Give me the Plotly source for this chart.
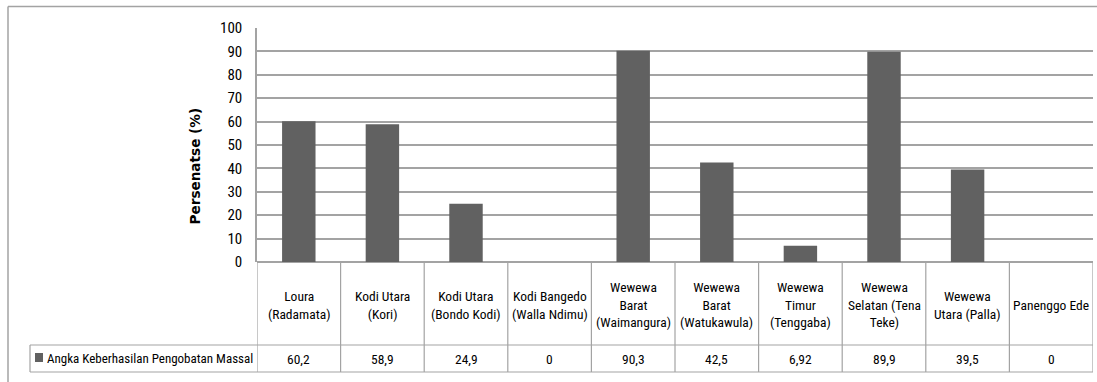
import plotly.graph_objects as go

# Kecamatan / puskesmas (tick labels of the data table header)
categories = [
    "Loura<br>(Radamata)",
    "Kodi Utara<br>(Kori)",
    "Kodi Utara<br>(Bondo Kodi)",
    "Kodi Bangedo<br>(Walla Ndimu)",
    "Wewewa<br>Barat<br>(Waimangura)",
    "Wewewa<br>Barat<br>(Watukawula)",
    "Wewewa<br>Timur<br>(Tenggaba)",
    "Wewewa<br>Selatan (Tena<br>Teke)",
    "Wewewa<br>Utara (Palla)",
    "Panenggo Ede",
]
series_name = "Angka Keberhasilan Pengobatan Massal"
values = [60.2, 58.9, 24.9, 0, 90.3, 42.5, 6.92, 89.9, 39.5, 0]
y_ticks = list(range(0, 101, 10))

W, H = 1097, 382
FONT = "Roboto Condensed, Liberation Sans Narrow, sans-serif"
LINE = "#a3a3a3"
BAR = "#616161"

# plot-area geometry in pixels
PL, PR, PT, PB = 257, 1093, 28, 262
ROW1, ROW2 = 345, 372      # bottom of header row, bottom of value row
LEG_L = 30                  # left edge of the legend cell


def py(p):
    return 1 - p / H


def fmt(v):
    return f"{v:g}".replace(".", ",")


n = len(categories)
fig = go.Figure(
    go.Bar(
        x=list(range(n)),
        y=values,
        width=0.4,
        marker=dict(color=BAR, line=dict(width=0)),
        name=series_name,
        showlegend=False,
    )
)

shapes = []
# outer chart border (top and left)
shapes.append(dict(type="line", xref="paper", yref="paper", x0=8 / W, x1=1, y0=py(6.5), y1=py(6.5),
                   line=dict(color=LINE, width=1.5)))
shapes.append(dict(type="line", xref="paper", yref="paper", x0=8 / W, x1=8 / W, y0=py(6.5), y1=0,
                   line=dict(color=LINE, width=1.5)))

# data table: vertical separators between categories
for k in range(n + 1):
    shapes.append(dict(type="line", xref="x", yref="paper", x0=k - 0.5, x1=k - 0.5,
                       y0=py(PB), y1=py(ROW2), line=dict(color=LINE, width=1.2)))
# data table: horizontal rules
for yp in (ROW1, ROW2):
    shapes.append(dict(type="line", xref="paper", yref="paper", x0=LEG_L / W, x1=PR / W,
                       y0=py(yp), y1=py(yp), line=dict(color=LINE, width=1.2)))
shapes.append(dict(type="line", xref="paper", yref="paper", x0=LEG_L / W, x1=LEG_L / W,
                   y0=py(ROW1), y1=py(ROW2), line=dict(color=LINE, width=1.2)))
# legend key square
shapes.append(dict(type="rect", xref="paper", yref="paper", x0=35 / W, x1=43 / W,
                   y0=py(362), y1=py(353), fillcolor=BAR, line=dict(width=0)))

annotations = []
for i, (c, v) in enumerate(zip(categories, values)):
    annotations.append(dict(x=i, xref="x", y=py((PB + ROW1) / 2 + 1), yref="paper", text=c,
                            showarrow=False, xanchor="center", yanchor="middle",
                            font=dict(family=FONT, size=13.5, color="#000")))
    annotations.append(dict(x=i, xref="x", y=py((ROW1 + ROW2) / 2), yref="paper", text=fmt(v),
                            showarrow=False, xanchor="center", yanchor="middle",
                            font=dict(family=FONT, size=13.5, color="#000")))
annotations.append(dict(x=45 / W, xref="paper", y=py((ROW1 + ROW2) / 2), yref="paper",
                        text=series_name, showarrow=False, xanchor="left", yanchor="middle",
                        font=dict(family=FONT, size=13, color="#000")))
annotations.append(dict(x=194 / W, xref="paper", y=py(166.5), yref="paper", text="<b>Persenatse (%)</b>",
                        textangle=-90, showarrow=False, xanchor="center", yanchor="middle",
                        font=dict(family="DejaVu Sans, Verdana, sans-serif", size=13.6, color="#000")))

fig.update_layout(
    width=W, height=H,
    margin=dict(l=0, r=0, t=0, b=0, pad=0),
    paper_bgcolor="white", plot_bgcolor="white",
    shapes=shapes, annotations=annotations,
    bargap=0.6,
    xaxis=dict(domain=[PL / W, PR / W], range=[-0.5, n - 0.5], showticklabels=False,
               showgrid=False, zeroline=False, showline=False, ticks="", automargin=False),
    yaxis=dict(domain=[py(PB), py(PT)], range=[0, 100], tickvals=y_ticks,
               showgrid=True, gridcolor=LINE, gridwidth=1.5,
               zeroline=True, zerolinecolor=LINE, zerolinewidth=1.5,
               showline=True, linecolor=LINE, linewidth=1.5, ticks="",
               ticklabelstandoff=10, automargin=False,
               tickfont=dict(family=FONT, size=15, color="#000")),
)

fig.write_html("out.html")
